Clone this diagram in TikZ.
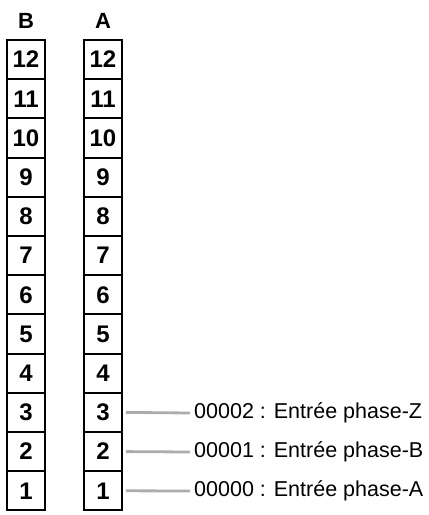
\documentclass[tikz,border=0pt]{standalone}
\usepackage{fontspec}
\setmainfont{Liberation Sans}
\usetikzlibrary{positioning}

\tikzset{
  cell/.style={draw, line width=2pt, minimum width=38pt, minimum height=39.2pt, inner sep=0pt, font=\fontsize{24}{24}\selectfont\bfseries},
  head/.style={inner sep=0pt, font=\fontsize{22}{24}\selectfont\bfseries},
  lead/.style={gray!65, line width=2.8pt},
  entry/.style={anchor=west, inner sep=4pt, font=\fontsize{21.5}{24}\selectfont}
}

\begin{document}
\begin{tikzpicture}[x=1pt, y=-1pt]
            \useasboundingbox (0,0) rectangle (429,515);
            % the two terminal strips
            \foreach \k in {1,...,12}{
                \node[cell] (B\k) at (26, {40+(12-\k)*39.2+19.6}) {\k};
                \node[cell] (A\k) at (103, {40+(12-\k)*39.2+19.6}) {\k};
            }
            \node[head, above=10pt of B12] (hB) {B};% strip B
            \node[head, above=10pt of A12] (hA) {A};% strip A

            \node[entry] (t3) at (190, 413) {00002 : Entrée phase-Z};
            \node[entry] (t2) at (190, 452) {00001 : Entrée phase-B};
            \node[entry] (t1) at (190, 491) {00000 : Entrée phase-A};

            \draw[lead] ([xshift=3pt]A3.east) -- (t3.west);
            \draw[lead] ([xshift=3pt]A2.east) -- (t2.west);
            \draw[lead] ([xshift=3pt]A1.east) -- (t1.west);
        \end{tikzpicture}
\end{document}
